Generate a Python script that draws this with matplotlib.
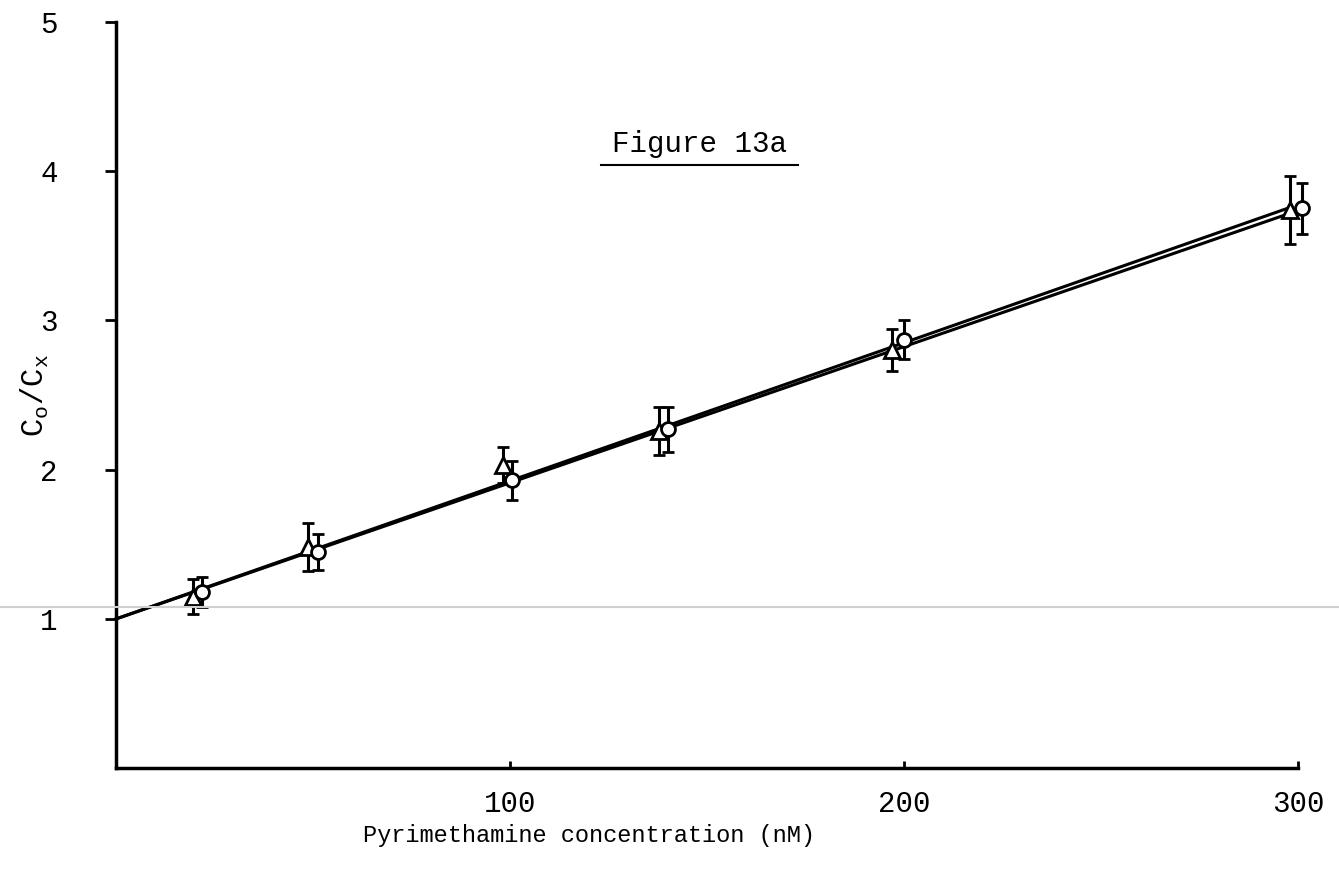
import numpy as np
import matplotlib.pyplot as plt
from matplotlib.lines import Line2D

plt.rcParams['font.family'] = ['Liberation Mono', 'DejaVu Sans Mono']
plt.rcParams['mathtext.fontset'] = 'custom'
plt.rcParams['mathtext.rm'] = 'Liberation Mono'
plt.rcParams['mathtext.it'] = 'Liberation Mono'

# triangles (series 1) and circles (series 2)
tri_x = [19.5, 48.7, 98.3, 137.8, 197.0, 298.0]
tri_y = [1.15, 1.48, 2.03, 2.26, 2.80, 3.74]
tri_err = [0.12, 0.16, 0.12, 0.16, 0.14, 0.23]

circ_x = [21.8, 51.3, 100.5, 140.1, 200.0, 301.0]
circ_y = [1.18, 1.45, 1.93, 2.27, 2.87, 3.75]
circ_err = [0.10, 0.12, 0.13, 0.15, 0.13, 0.17]

# fitted lines (intercept, slope, end)
tri_fit = (1.0, 0.00925, 298.0)
circ_fit = (1.0, 0.00912, 301.0)

xticks = [100, 200, 300]
yticks = [1, 2, 3, 4, 5]

fig = plt.figure(figsize=(13.39, 8.73), dpi=100)
ax = fig.add_axes([0.0866, 0.12, 0.8827, 0.855])

for b0, b1, xe in [tri_fit, circ_fit]:
    xx = np.array([0.0, xe])
    ax.plot(xx, b0 + b1 * xx, color='black', lw=2.2, zorder=2, clip_on=False)

for xs, ys, es, mk, ms, z in [(tri_x, tri_y, tri_err, '^', 12, 3),
                              (circ_x, circ_y, circ_err, 'o', 10, 4)]:
    eb = ax.errorbar(xs, ys, yerr=es, fmt=mk, ms=ms, mfc='white', mec='black',
                     mew=2, ecolor='black', elinewidth=2.2, capsize=4, capthick=2.2,
                     zorder=z)
    for art in eb.lines[0:1] + tuple(eb.lines[1]) + tuple(eb.lines[2]):
        art.set_clip_on(False)

ax.set_xlim(0, 300)
ax.set_ylim(0, 5)
ax.spines['top'].set_visible(False)
ax.spines['right'].set_visible(False)
ax.spines['left'].set_linewidth(2.5)
ax.spines['bottom'].set_linewidth(2.5)

ax.set_xticks(xticks)
ax.set_yticks(yticks)
ax.tick_params(axis='y', direction='out', length=8, width=2, pad=34, labelsize=21)
ax.tick_params(axis='x', direction='in', length=5, width=2, pad=16, labelsize=21)

ax.set_xlabel('Pyrimethamine concentration (nM)', fontsize=17)
ax.xaxis.set_label_coords(0.40, -0.075)
ax.set_ylabel(r'$\mathrm{C_o/C_x}$', fontsize=22)
ax.yaxis.set_label_coords(-0.055, 0.5)

ax.text(148, 4.18, 'Figure 13a', fontsize=21, ha='center', va='center')
ax.plot([123, 173], [4.04, 4.04], color='black', lw=1.5, clip_on=False)

# faint scan line across the page
fig.add_artist(Line2D([0, 1], [1 - 607 / 873, 1 - 607 / 873], color='#cfcfcf', lw=1.5))

fig.savefig('out.png', dpi=100, facecolor='white')
